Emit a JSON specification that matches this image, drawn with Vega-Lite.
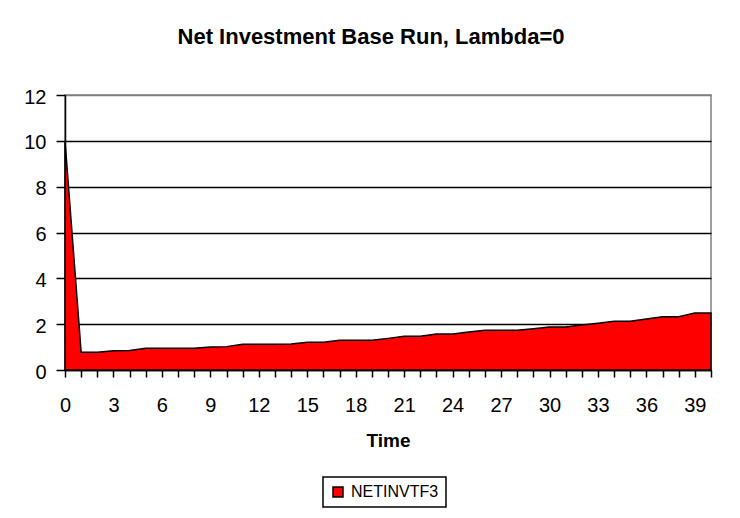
{
  "$schema": "https://vega.github.io/schema/vega-lite/v6.json",
  "width": 646,
  "height": 275,
  "autosize": "none",
  "padding": {"left": 65, "top": 95, "right": 29, "bottom": 148},
  "background": "white",
  "config": {
    "font": "Liberation Sans",
    "view": {"stroke": "#808080", "strokeWidth": 1.5},
    "legend": {"strokeWidth": 1.5}
  },
  "title": {
    "text": "Net Investment Base Run, Lambda=0",
    "fontSize": 22,
    "fontWeight": "bold",
    "color": "black",
    "anchor": "middle",
    "dx": -17,
    "offset": 38
  },
  "data": {
    "values": [
      {"t": 0, "v": 10.0, "s": "NETINVTF3"},
      {"t": 1, "v": 0.77, "s": "NETINVTF3"},
      {"t": 2, "v": 0.77, "s": "NETINVTF3"},
      {"t": 3, "v": 0.84, "s": "NETINVTF3"},
      {"t": 4, "v": 0.85, "s": "NETINVTF3"},
      {"t": 5, "v": 0.95, "s": "NETINVTF3"},
      {"t": 6, "v": 0.95, "s": "NETINVTF3"},
      {"t": 7, "v": 0.95, "s": "NETINVTF3"},
      {"t": 8, "v": 0.95, "s": "NETINVTF3"},
      {"t": 9, "v": 1.0, "s": "NETINVTF3"},
      {"t": 10, "v": 1.02, "s": "NETINVTF3"},
      {"t": 11, "v": 1.12, "s": "NETINVTF3"},
      {"t": 12, "v": 1.12, "s": "NETINVTF3"},
      {"t": 13, "v": 1.12, "s": "NETINVTF3"},
      {"t": 14, "v": 1.13, "s": "NETINVTF3"},
      {"t": 15, "v": 1.21, "s": "NETINVTF3"},
      {"t": 16, "v": 1.21, "s": "NETINVTF3"},
      {"t": 17, "v": 1.3, "s": "NETINVTF3"},
      {"t": 18, "v": 1.3, "s": "NETINVTF3"},
      {"t": 19, "v": 1.3, "s": "NETINVTF3"},
      {"t": 20, "v": 1.38, "s": "NETINVTF3"},
      {"t": 21, "v": 1.47, "s": "NETINVTF3"},
      {"t": 22, "v": 1.47, "s": "NETINVTF3"},
      {"t": 23, "v": 1.57, "s": "NETINVTF3"},
      {"t": 24, "v": 1.57, "s": "NETINVTF3"},
      {"t": 25, "v": 1.66, "s": "NETINVTF3"},
      {"t": 26, "v": 1.73, "s": "NETINVTF3"},
      {"t": 27, "v": 1.73, "s": "NETINVTF3"},
      {"t": 28, "v": 1.73, "s": "NETINVTF3"},
      {"t": 29, "v": 1.8, "s": "NETINVTF3"},
      {"t": 30, "v": 1.88, "s": "NETINVTF3"},
      {"t": 31, "v": 1.88, "s": "NETINVTF3"},
      {"t": 32, "v": 1.96, "s": "NETINVTF3"},
      {"t": 33, "v": 2.04, "s": "NETINVTF3"},
      {"t": 34, "v": 2.13, "s": "NETINVTF3"},
      {"t": 35, "v": 2.13, "s": "NETINVTF3"},
      {"t": 36, "v": 2.23, "s": "NETINVTF3"},
      {"t": 37, "v": 2.32, "s": "NETINVTF3"},
      {"t": 38, "v": 2.32, "s": "NETINVTF3"},
      {"t": 39, "v": 2.49, "s": "NETINVTF3"},
      {"t": 40, "v": 2.49, "s": "NETINVTF3"}
    ]
  },
  "mark": {"type": "area", "stroke": "black", "strokeWidth": 1.5, "opacity": 1, "fillOpacity": 1},
  "encoding": {
    "x": {
      "field": "t",
      "type": "quantitative",
      "scale": {"domain": [0, 40], "nice": false, "zero": false},
      "axis": {
        "title": "Time",
        "titleFontSize": 19,
        "titleFontWeight": "bold",
        "titleColor": "black",
        "titlePadding": 16,
        "values": [0,1,2,3,4,5,6,7,8,9,10,11,12,13,14,15,16,17,18,19,20,21,22,23,24,25,26,27,28,29,30,31,32,33,34,35,36,37,38,39,40],
        "labelExpr": "datum.value % 3 == 0 ? datum.label : ''",
        "labelOverlap": false,
        "labelFlush": false,
        "labelFontSize": 20,
        "labelColor": "black",
        "labelPadding": 18,
        "tickSize": 7,
        "tickColor": "black",
        "tickWidth": 1.5,
        "domainColor": "black",
        "domainWidth": 1.5,
        "grid": false
      }
    },
    "y": {
      "field": "v",
      "type": "quantitative",
      "scale": {"domain": [0, 12], "nice": false},
      "axis": {
        "title": null,
        "values": [0, 2, 4, 6, 8, 10, 12],
        "labelFontSize": 20,
        "labelColor": "black",
        "labelPadding": 10,
        "labelOffset": 2,
        "tickSize": 9,
        "tickColor": "black",
        "tickWidth": 1.5,
        "domainColor": "black",
        "domainWidth": 1.5,
        "grid": true,
        "gridColor": {"condition": {"test": "datum.value == 12", "value": "#808080"}, "value": "black"},
        "gridWidth": 1.5,
        "gridOpacity": 1
      }
    },
    "color": {
      "field": "s",
      "type": "nominal",
      "scale": {"range": ["#FF0000"]},
      "legend": {
        "title": null,
        "orient": "none",
        "legendX": 258,
        "legendY": 382,
        "strokeColor": "black",
        "fillColor": "white",
        "padding": 7,
        "symbolType": "square",
        "symbolSize": 100,
        "symbolStrokeColor": "black",
        "symbolStrokeWidth": 1.5,
        "symbolOpacity": 1,
        "labelFontSize": 16,
        "labelColor": "black",
        "labelOffset": 5
      }
    }
  }
}
